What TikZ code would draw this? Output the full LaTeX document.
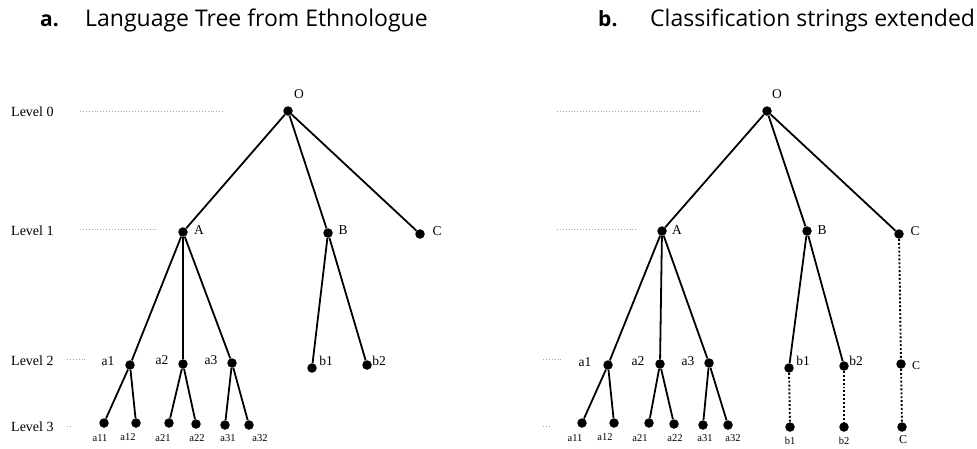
\documentclass[tikz,border=0pt]{standalone}
\usepackage{fontspec}
\setmainfont{Liberation Serif}
\newfontfamily\headfont{Open Sans}

\tikzset{
  dot/.style={circle,fill=black,inner sep=0pt,minimum size=9.5pt},
  lab/.style={inner sep=0pt,font=\fontsize{13.5}{14}\selectfont},
  leaf/.style={inner sep=0pt,font=\fontsize{10.5}{11}\selectfont},
  lvl/.style={inner sep=0pt,anchor=west,font=\fontsize{14}{15}\selectfont},
  guide/.style={gray!70,dotted,line width=0.9pt},
  branch/.style={black,line width=1.8pt},
  ext/.style={black,dotted,line width=1.9pt},
  head/.style={inner sep=0pt,anchor=base west,font=\headfont\fontsize{23}{24}\selectfont},
  headtag/.style={head,font=\headfont\bfseries\fontsize{21}{24}\selectfont}
}

\begin{document}
\begin{tikzpicture}[x=1pt, y=-1pt]
\useasboundingbox (0,0) rectangle (977,448);

% Titles
\node[headtag] (ta) at (40,26) {a.};
\node[head] (tta) at (85,26) {Language Tree from Ethnologue};
\node[headtag] (tb) at (598,26) {b.};
\node[head] (ttb) at (650,26) {Classification strings extended};

% Levels
\node[lvl] (l0) at (11,112) {Level 0};
\node[lvl] (l1) at (11,231) {Level 1};
\node[lvl] (l2) at (11,361) {Level 2};
\node[lvl] (l3) at (11,427) {Level 3};
\draw[guide] (80,111) -- (223,111);
\draw[guide] (80,229) -- (158,229);
\draw[guide] (67,359) -- (85,359);
\draw[guide] (67,426) -- (72,426);
\draw[guide] (557,111) -- (702,111);
\draw[guide] (557,229) -- (636,229);
\draw[guide] (543,359) -- (563,359);
\draw[guide] (543,426) -- (550,426);

% Tree a
\node[dot] (O) at (288,111) {};
\node[dot] (A) at (183,232) {};
\node[dot] (B) at (328,233) {};
\node[dot] (C) at (420,234) {};
\node[dot] (a1) at (130,365) {};
\node[dot] (a2) at (183,364) {};
\node[dot] (a3) at (232,363) {};
\node[dot] (b1) at (312,368) {};
\node[dot] (b2) at (367,365) {};
\node[dot] (a11) at (104,423) {};
\node[dot] (a12) at (136,423) {};
\node[dot] (a21) at (169,423) {};
\node[dot] (a22) at (196,424) {};
\node[dot] (a31) at (225,425) {};
\node[dot] (a32) at (249,425) {};

\draw[branch] (O) -- (A);
\draw[branch] (O) -- (B);
\draw[branch] (O) -- (C);
\draw[branch] (A) -- (a1);
\draw[branch] (A) -- (a2);
\draw[branch] (A) -- (a3);
\draw[branch] (B) -- (b1);
\draw[branch] (B) -- (b2);
\draw[branch] (a1) -- (a11);
\draw[branch] (a1) -- (a12);
\draw[branch] (a2) -- (a21);
\draw[branch] (a2) -- (a22);
\draw[branch] (a3) -- (a31);
\draw[branch] (a3) -- (a32);

\node[lab] (tO) at (299,94) {O};
\node[lab] (tA) at (199,230) {A};
\node[lab] (tB) at (343,230) {B};
\node[lab] (tC) at (437,231) {C};
\node[lab] (ta1) at (108,361) {a1};
\node[lab] (ta2) at (162,360) {a2};
\node[lab] (ta3) at (211,360) {a3};
\node[lab] (tb1) at (326,361) {b1};
\node[lab] (tb2) at (379,361) {b2};
\node[leaf] (ta11) at (100,438) {a11};
\node[leaf] (ta12) at (128,437) {a12};
\node[leaf] (ta21) at (163,438) {a21};
\node[leaf] (ta22) at (197,438) {a22};
\node[leaf] (ta31) at (228,438) {a31};
\node[leaf] (ta32) at (260,438) {a32};

% Tree b
\node[dot] (rO) at (767,111) {};
\node[dot] (rA) at (662,231) {};
\node[dot] (rB) at (807,231) {};
\node[dot] (rC) at (899,234) {};
\node[dot] (ra1) at (608,365) {};
\node[dot] (ra2) at (660,364) {};
\node[dot] (ra3) at (709,363) {};
\node[dot] (rb1) at (789,368) {};
\node[dot] (rb2) at (844,366) {};
\node[dot] (rC2) at (901,364) {};
\node[dot] (ra11) at (582,423) {};
\node[dot] (ra12) at (614,423) {};
\node[dot] (ra21) at (649,423) {};
\node[dot] (ra22) at (674,424) {};
\node[dot] (ra31) at (703,425) {};
\node[dot] (ra32) at (728,425) {};
\node[dot] (rb13) at (790,427) {};
\node[dot] (rb23) at (844,427) {};
\node[dot] (rC3) at (902,427) {};

\draw[branch] (rO) -- (rA);
\draw[branch] (rO) -- (rB);
\draw[branch] (rO) -- (rC);
\draw[branch] (rA) -- (ra1);
\draw[branch] (rA) -- (ra2);
\draw[branch] (rA) -- (ra3);
\draw[branch] (rB) -- (rb1);
\draw[branch] (rB) -- (rb2);
\draw[branch] (ra1) -- (ra11);
\draw[branch] (ra1) -- (ra12);
\draw[branch] (ra2) -- (ra21);
\draw[branch] (ra2) -- (ra22);
\draw[branch] (ra3) -- (ra31);
\draw[branch] (ra3) -- (ra32);

% Extended strings
\draw[ext] (rC) -- (rC2);
\draw[ext] (rC2) -- (rC3);
\draw[ext] (rb1) -- (rb13);
\draw[ext] (rb2) -- (rb23);

\node[lab] (trO) at (777,94) {O};
\node[lab] (trA) at (677,230) {A};
\node[lab] (trB) at (822,230) {B};
\node[lab] (trC) at (915,231) {C};
\node[lab] (tra1) at (585,362) {a1};
\node[lab] (tra2) at (638,361) {a2};
\node[lab] (tra3) at (688,361) {a3};
\node[lab] (trb1) at (803,361) {b1};
\node[lab] (trb2) at (856,361) {b2};
\node[leaf,font=\fontsize{12}{13}\selectfont] (trC2) at (916,366) {C};
\node[leaf] (tra11) at (575,438) {a11};
\node[leaf] (tra12) at (605,437) {a12};
\node[leaf] (tra21) at (640,438) {a21};
\node[leaf] (tra22) at (675,438) {a22};
\node[leaf] (tra31) at (705,438) {a31};
\node[leaf] (tra32) at (733,438) {a32};
\node[leaf] (trb13) at (790,441) {b1};
\node[leaf] (trb23) at (844,441) {b2};
\node[leaf,font=\fontsize{12}{13}\selectfont] (trC3) at (903,440) {C};
\end{tikzpicture}
\end{document}
